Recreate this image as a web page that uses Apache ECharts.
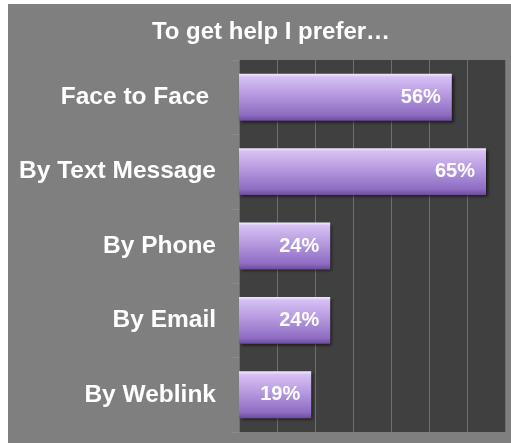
<!DOCTYPE html>
<html>
<head>
<meta charset="utf-8">
<script src="https://cdn.jsdelivr.net/npm/echarts@6/dist/echarts.min.js"></script>
<style>
html,body{margin:0;padding:0;background:#ffffff;}
#c{width:511px;height:443px;}
</style>
</head>
<body>
<div id="c"></div>
<script>
const titleText = 'To get help I prefer…';
const categories = ['Face to Face ', 'By Text Message', 'By Phone', 'By Email', 'By Weblink'];
const values = [56, 65, 24, 24, 19];
const axisMin = 0, axisMax = 70, axisInterval = 10;

const FONT = '"Liberation Sans", Arial, sans-serif';
const chart = echarts.init(document.getElementById('c'), null, {renderer: 'canvas'});
chart.setOption({
  backgroundColor: '#ffffff',
  animation: false,
  graphic: [{
    type: 'rect', z: -10, silent: true,
    shape: {x: 8, y: 4, width: 503, height: 439},
    style: {fill: '#7f7f7f'}
  }],
  title: {
    text: titleText,
    left: 266, top: 15, textAlign: 'center',
    textStyle: {color: '#ffffff', fontFamily: FONT, fontWeight: 'bold', fontSize: 24}
  },
  grid: {
    left: 239, right: 6, top: 60, bottom: 11,
    show: true, backgroundColor: '#404040', borderWidth: 0
  },
  xAxis: {
    type: 'value', min: axisMin, max: axisMax, interval: axisInterval,
    axisLabel: {show: false}, axisLine: {show: false}, axisTick: {show: false},
    splitLine: {show: true, lineStyle: {color: '#6e6e6e', width: 1}}
  },
  yAxis: {
    type: 'category', data: categories, inverse: true,
    axisLine: {show: false},
    axisTick: {show: true, length: 7, lineStyle: {color: '#8c8c8c'}},
    axisLabel: {color: '#ffffff', fontFamily: FONT, fontWeight: 'bold', fontSize: 24.5, margin: 23}
  },
  series: [{
    type: 'bar', data: values, barCategoryGap: '37%',
    itemStyle: {
      color: new echarts.graphic.LinearGradient(0, 0, 0, 1, [
        {offset: 0, color: '#f4eaff'},
        {offset: 0.07, color: '#d6c0f3'},
        {offset: 0.45, color: '#b699df'},
        {offset: 0.88, color: '#8e6cc2'},
        {offset: 1, color: '#6b4c9a'}
      ]),
      shadowColor: 'rgba(0,0,0,0.6)', shadowBlur: 3, shadowOffsetX: 2, shadowOffsetY: 2
    },
    label: {
      show: true, position: 'insideRight', distance: 11,
      formatter: p => p.value + '%',
      color: '#ffffff', fontFamily: FONT, fontWeight: 'bold', fontSize: 20
    }
  }]
});
</script>
</body>
</html>
